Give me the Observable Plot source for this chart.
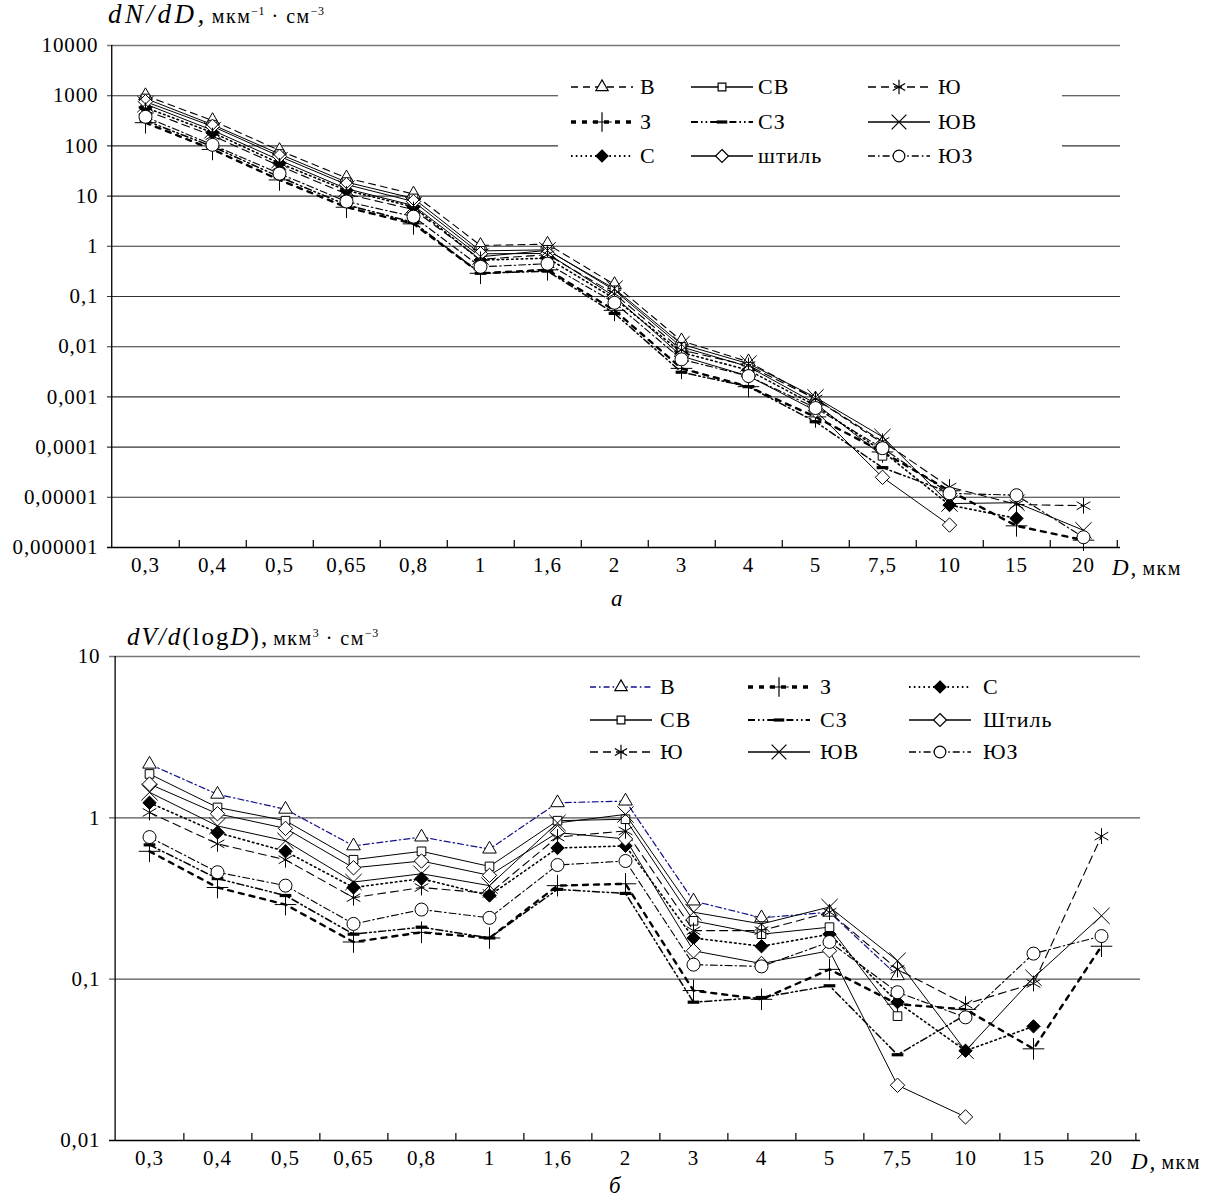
<!DOCTYPE html>
<html><head><meta charset="utf-8">
<script src="https://cdn.jsdelivr.net/npm/d3@7"></script>
<script src="https://cdn.jsdelivr.net/npm/@observablehq/plot@0.6"></script>
<style>
body{margin:0;background:#fff;}
#page{position:relative;width:1206px;height:1199px;font-family:"Liberation Serif","DejaVu Serif",serif;color:#000;overflow:hidden;}
.abs{position:absolute;white-space:nowrap;line-height:1;}
.lt{font-size:21px;letter-spacing:1px;}
.m{font-style:italic;font-size:25px;letter-spacing:2px;}
.u{font-size:20px;letter-spacing:1.5px;}
sup{font-size:12px;letter-spacing:0.5px;}
</style></head><body><div id="page"></div>
<script>
// ---------- data ----------
const categories = ["0,3","0,4","0,5","0,65","0,8","1","1,6","2","3","4","5","7,5","10","15","20"];
const seriesNames = ["В","З","С","СВ","СЗ","штиль","Ю","ЮВ","ЮЗ"];

// panel а : dN/dD
const aV    = [1000, 320, 81, 23, 11, 1.04, 1.10, 0.173, 0.0131, 0.0050, 0.00091, 0.00012, null, null, null];
const aSV   = [880, 265, 69, 19, 9.0, 0.81, 0.85, 0.133, 0.0099, 0.0040, 0.00074, 0.000067, null, null, null];
const aCalm = [760, 245, 62, 17, 7.8, 0.71, 0.72, 0.10, 0.0065, 0.0026, 0.00053, 0.000025, 0.0000028, null, null];
const aYuV  = [680, 205, 52, 14, 6.5, 0.62, 0.83, 0.143, 0.0112, 0.0046, 0.00098, 0.00016, 0.0000075, 0.0000078, 0.0000022];
const aS    = [580, 185, 45, 13, 6.1, 0.53, 0.58, 0.091, 0.0077, 0.0034, 0.00067, 0.000082, 0.000007, 0.0000038, null];
const aYu   = [510, 160, 40, 11, 5.4, 0.55, 0.68, 0.113, 0.0086, 0.0042, 0.00091, 0.00013, 0.000016, 0.0000072, 0.0000068];
const aYuZ  = [380, 105, 28, 7.8, 3.9, 0.39, 0.45, 0.075, 0.0056, 0.0026, 0.0006, 0.000095, 0.000012, 0.000011, 0.0000016];
const aZ    = [290, 85, 21, 6.0, 2.8, 0.29, 0.34, 0.053, 0.0037, 0.0016, 0.0004, 0.00008, 0.0000135, 0.0000027, 0.0000014];
const aSZ   = [320, 97, 24, 6.7, 3.0, 0.29, 0.32, 0.046, 0.0031, 0.0016, 0.00032, 0.000039, 0.0000125, null, null];

// panel б : dV/d(logD)
const bV    = [2.15, 1.40, 1.13, 0.67, 0.76, 0.64, 1.24, 1.27, 0.305, 0.24, 0.26, 0.105, null, null, null];
const bSV   = [1.87, 1.16, 0.96, 0.55, 0.62, 0.50, 0.96, 0.98, 0.23, 0.19, 0.21, 0.059, null, null, null];
const bCalm = [1.62, 1.06, 0.86, 0.49, 0.54, 0.44, 0.81, 0.74, 0.15, 0.125, 0.15, 0.022, 0.014, null, null];
const bYuV  = [1.44, 0.89, 0.72, 0.40, 0.45, 0.38, 0.93, 1.05, 0.26, 0.22, 0.28, 0.13, 0.036, 0.102, 0.247];
const bS    = [1.24, 0.81, 0.62, 0.37, 0.42, 0.33, 0.65, 0.67, 0.18, 0.16, 0.19, 0.072, 0.036, 0.051, null];
const bYu   = [1.08, 0.69, 0.55, 0.32, 0.37, 0.34, 0.76, 0.83, 0.20, 0.20, 0.26, 0.115, 0.070, 0.094, 0.77];
const bYuZ  = [0.76, 0.46, 0.38, 0.22, 0.27, 0.24, 0.51, 0.54, 0.123, 0.12, 0.17, 0.083, 0.058, 0.144, 0.185];
const bZ    = [0.62, 0.37, 0.29, 0.17, 0.195, 0.18, 0.38, 0.39, 0.085, 0.075, 0.115, 0.07, 0.065, 0.037, 0.16];
const bSZ   = [0.68, 0.42, 0.33, 0.19, 0.21, 0.18, 0.36, 0.34, 0.072, 0.077, 0.091, 0.034, 0.06, null, null];

const yTicksA  = [1e-6, 1e-5, 1e-4, 1e-3, 1e-2, 1e-1, 1, 10, 100, 1000, 10000];
const yLabelsA = ["0,000001","0,00001","0,0001","0,001","0,01","0,1","1","10","100","1000","10000"];
const yTicksB  = [0.01, 0.1, 1, 10];
const yLabelsB = ["0,01","0,1","1","10"];

const valuesA = {"В":aV,"З":aZ,"С":aS,"СВ":aSV,"СЗ":aSZ,"штиль":aCalm,"Ю":aYu,"ЮВ":aYuV,"ЮЗ":aYuZ};
const valuesB = {"В":bV,"З":bZ,"С":bS,"СВ":bSV,"СЗ":bSZ,"штиль":bCalm,"Ю":bYu,"ЮВ":bYuV,"ЮЗ":bYuZ};

// ---------- styles ----------
const dashMarker = {draw(ctx, size){ const w = Math.sqrt(size)*0.55; ctx.rect(-w, -1.6, 2*w, 3.2); }};
const baseStyle = {
  "В":    {dash:"7,5", width:1.1, color:"#000", symbol:"triangle2", fill:"#fff", r:6.5},
  "З":    {dash:"5,6", width:2.4, color:"#000", symbol:"plus", fill:"none", r:7},
  "С":    {dash:"1.6,3.2", width:1.6, color:"#000", symbol:"diamond2", fill:"#000", r:6},
  "СВ":   {dash:null, width:1, color:"#000", symbol:"square2", fill:"#fff", r:5.5},
  "СЗ":   {dash:"7,3,1.6,3,1.6,3", width:1.5, color:"#000", symbol:dashMarker, fill:"#000", r:6},
  "штиль":{dash:null, width:1, color:"#000", symbol:"diamond2", fill:"#fff", r:6.5},
  "Ю":    {dash:"8,5", width:1.1, color:"#000", symbol:"asterisk", fill:"none", r:7.5},
  "ЮВ":   {dash:null, width:1, color:"#000", symbol:"times", fill:"none", r:7.5},
  "ЮЗ":   {dash:"7,3,1.6,3", width:1.1, color:"#000", symbol:"circle", fill:"#fff", r:6.5}
};
const styleA = baseStyle;
const styleB = Object.assign({}, baseStyle, {"В": {dash:"6,3,1.6,3", width:1.2, color:"#10108a", symbol:"triangle2", fill:"#fff", r:6.5}});

const FONT = '"Liberation Serif","DejaVu Serif",serif';
const page = document.getElementById("page");

function makePanel(cfg) {
  const {values, styles, yDomain, yTicks, yLabels, grid, top, height, mL, mR, mT, mB, gridColor} = cfg;
  const innerW = 1206 - mL - mR;
  const step = innerW / categories.length;
  const frameH = height - mT - mB;
  const labelMap = new Map(yTicks.map((t, i) => [t, yLabels[i]]));
  const marks = [
    Plot.ruleY(grid, {stroke: gridColor, strokeWidth: 1.1}),
    Plot.ruleY([yDomain[1]], {stroke: "#777", strokeWidth: 1.6}),
    Plot.ruleY([yDomain[0]], {stroke: "#000", strokeWidth: 1.3}),
    Plot.ruleX([categories[0]], {dx: -step / 2, stroke: "#000", strokeWidth: 1.3}),
    Plot.tickX(categories, {x: d => d, dx: step / 2, insetTop: frameH - 7, stroke: "#000", strokeWidth: 1.2}),
    Plot.axisX({tickSize: 0, tickPadding: 10, fontSize: 21, fontFamily: FONT, label: null}),
    Plot.axisY({ticks: yTicks, tickFormat: d => labelMap.get(d), tickSize: 0, tickPadding: 9, fontSize: 21, fontFamily: FONT, label: null})
  ];
  for (const name of seriesNames) {
    const st = styles[name];
    const vals = values[name];
    const data = categories.map((c, i) => ({c, v: vals[i]}));
    marks.push(Plot.line(data, {x: "c", y: "v", stroke: st.color, strokeWidth: st.width, strokeDasharray: st.dash || undefined}));
  }
  for (const name of seriesNames) {
    const st = styles[name];
    const vals = values[name];
    const data = categories.map((c, i) => ({c, v: vals[i]})).filter(d => d.v != null);
    marks.push(Plot.dot(data, {x: "c", y: "v", symbol: st.symbol, r: st.r,
      stroke: st.symbol === dashMarker ? "none" : "#000", strokeWidth: 1, fill: st.fill}));
  }
  const svg = Plot.plot({
    width: 1206, height,
    marginLeft: mL, marginRight: mR, marginTop: mT, marginBottom: mB,
    x: {type: "point", domain: categories, padding: 0.5, label: null},
    y: {type: "log", domain: yDomain, label: null},
    style: {fontFamily: FONT, fontSize: "21px", color: "#000", background: "transparent", overflow: "visible", letterSpacing: "0.9px"},
    marks
  });
  svg.style.position = "absolute";
  svg.style.left = "0px";
  svg.style.top = top + "px";
  page.appendChild(svg);
}

makePanel({values: valuesA, styles: styleA, yDomain: [1e-6, 1e4], yTicks: yTicksA, yLabels: yLabelsA,
  grid: [1e-5, 1e-4, 1e-3, 1e-2, 1e-1, 1, 10, 100, 1000], top: 0, height: 600,
  mL: 107, mR: 86, mT: 45, mB: 53, gridColor: "#333"});
makePanel({values: valuesB, styles: styleB, yDomain: [0.01, 10], yTicks: yTicksB, yLabels: yLabelsB,
  grid: [0.1, 1], top: 600, height: 599,
  mL: 109, mR: 66, mT: 56, mB: 59, gridColor: "#555"});

// ---------- texts & legends ----------
function addText(html, x, y, cls, extra) {
  const d = document.createElement("div");
  d.className = "abs " + (cls || "");
  d.innerHTML = html;
  d.style.left = x + "px"; d.style.top = y + "px";
  if (extra) Object.assign(d.style, extra);
  page.appendChild(d);
  return d;
}
// legend background panel а (hides gridlines)
addText("", 558, 58, "", {width: "504px", height: "125px", background: "#fff"});

function legendItem(name, label, st, x, y, textX) {
  const svg = d3.create("svg").attr("width", 64).attr("height", 22)
    .style("position", "absolute").style("left", x + "px").style("top", (y - 11) + "px");
  svg.append("line").attr("x1", 1).attr("x2", 63).attr("y1", 11).attr("y2", 11)
    .attr("stroke", st.color).attr("stroke-width", st.width * 1.4).attr("stroke-dasharray", st.dash);
  const sym = typeof st.symbol === "string" ? {
    triangle2: d3.symbolTriangle2, plus: d3.symbolPlus, diamond2: d3.symbolDiamond2, square2: d3.symbolSquare2,
    asterisk: d3.symbolAsterisk, times: d3.symbolTimes, circle: d3.symbolCircle}[st.symbol] : st.symbol;
  const r = st.r * 0.9;
  svg.append("path").attr("transform", "translate(32,11)").attr("d", d3.symbol(sym, r * r * Math.PI)())
    .attr("fill", st.fill).attr("stroke", st.symbol === dashMarker ? "none" : "#000").attr("stroke-width", 1.2);
  page.appendChild(svg.node());
  addText(label, textX, y - 11, "lt", {fontSize: "22px"});
}
// panel а legend
const legA = [["В","СВ","Ю"],["З","СЗ","ЮВ"],["С","штиль","ЮЗ"]];
const legAx = [[570, 640], [690, 758], [867, 938]];
const legAy = [87, 122, 156];
legA.forEach((row, ri) => row.forEach((n, ci) =>
  legendItem(n, n, styleA[n], legAx[ci][0], legAy[ri], legAx[ci][1])));
// panel б legend
const legB = [["В","З","С"],["СВ","СЗ","штиль"],["Ю","ЮВ","ЮЗ"]];
const legBlabels = {"штиль": "Штиль"};
const legBx = [[589, 660], [747, 820], [908, 983]];
const legBy = [687, 720, 752];
legB.forEach((row, ri) => row.forEach((n, ci) =>
  legendItem(n, legBlabels[n] || n, styleB[n], legBx[ci][0], legBy[ri], legBx[ci][1])));

// axis titles
addText('<span class="m" style="font-size:27px;letter-spacing:3.5px">dN/dD,</span> <span class="u">мкм<sup>−1</sup> · см<sup>−3</sup></span>', 108, 1, "");
addText('<span class="m">dV/d</span><span class="m" style="font-style:normal">(log</span><span class="m">D</span><span class="m" style="font-style:normal">),</span> <span class="u">мкм<sup>3</sup> · см<sup>−3</sup></span>', 127, 624, "");
addText('<span class="m" style="font-size:23px">D,</span> <span class="u">мкм</span>', 1112, 556, "");
addText('<span class="m" style="font-size:23px">D,</span> <span class="u">мкм</span>', 1131, 1150, "");
addText('<i>а</i>', 611, 587, "lt", {fontSize: "23px"});
addText('<i>б</i>', 609, 1174, "lt", {fontSize: "23px"});
</script>
</body></html>
